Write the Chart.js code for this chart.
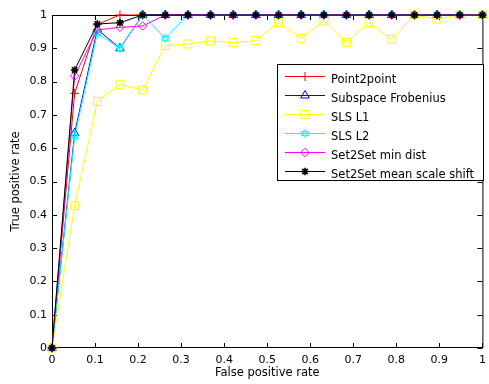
<!DOCTYPE html>
<html>
<head>
<meta charset="utf-8">
<title>ROC curves</title>
<script src="https://cdn.jsdelivr.net/npm/chart.js@4.4.0/dist/chart.umd.min.js"></script>
<style>
  html, body { margin: 0; padding: 0; background: #fff; }
  #wrap { width: 489px; height: 384px; }
</style>
</head>
<body>
<div id="wrap"><canvas id="roc" width="489" height="384"></canvas></div>
<script>
/* ---- data ---- */
const fpr = [0, 0.0526, 0.1053, 0.1579, 0.2105, 0.2632, 0.3158, 0.3684, 0.4211, 0.4737,
             0.5263, 0.5789, 0.6316, 0.6842, 0.7368, 0.7895, 0.8421, 0.8947, 0.9474, 1]

const point2point = [0, 0.765, 0.972, 1, 1, 1, 1, 1, 1, 1, 1, 1, 1, 1, 1, 1, 1, 1, 1, 1]
const subspaceFrob = [0, 0.645, 0.957, 0.9, 1, 1, 1, 1, 1, 1, 1, 1, 1, 1, 1, 1, 1, 1, 1, 1]
const slsL1 = [0, 0.427, 0.74, 0.792, 0.775, 0.908, 0.913, 0.922, 0.917, 0.923,
               0.977, 0.93, 0.982, 0.918, 0.977, 0.927, 1, 0.988, 1, 1]
const slsL2 = [0, 0.635, 0.945, 0.9, 1, 0.93, 1, 1, 1, 1, 1, 1, 1, 1, 1, 1, 1, 1, 1, 1]
const set2setMin = [0, 0.817, 0.955, 0.963, 0.967, 1, 1, 1, 1, 1, 1, 1, 1, 1, 1, 1, 1, 1, 1, 1]
const set2setMean = [0, 0.835, 0.973, 0.977, 1, 1, 1, 1, 1, 1, 1, 1, 1, 1, 1, 1, 1, 1, 1, 1]

const seriesNames = ['Point2point', 'Subspace Frobenius', 'SLS L1', 'SLS L2',
                     'Set2Set min dist', 'Set2Set mean scale shift']

const xTicks = [0, 0.1, 0.2, 0.3, 0.4, 0.5, 0.6, 0.7, 0.8, 0.9, 1]
const yTicks = [0, 0.1, 0.2, 0.3, 0.4, 0.5, 0.6, 0.7, 0.8, 0.9, 1]

/* hexagram marker for SLS L2 (matlab 'h') */
function hexagram(color) {
  const c = document.createElement('canvas')
  c.width = 11; c.height = 11
  const g = c.getContext('2d')
  g.strokeStyle = color
  g.lineWidth = 1
  const r = 4.2
  for (let k = 0; k < 2; k++) {
    g.beginPath()
    for (let i = 0; i < 3; i++) {
      const a = (k ? Math.PI / 2 : -Math.PI / 2) + i * 2 * Math.PI / 3
      const px = 5.5 + r * Math.cos(a), py = 5.5 + r * Math.sin(a)
      if (i == 0) g.moveTo(px, py); else g.lineTo(px, py)
    }
    g.closePath()
    g.stroke()
  }
  return c
}

const styles = [
  { color: '#ff0000', pointStyle: 'cross', radius: 4.5, pw: 1 },
  { color: '#0000ff', pointStyle: 'triangle', radius: 5, pw: 1 },
  { color: '#ffff00', pointStyle: 'rect', radius: 5.6, pw: 1 },
  { color: '#00ffff', pointStyle: hexagram('#00ffff'), radius: 4, pw: 1 },
  { color: '#ff00ff', pointStyle: 'rectRot', radius: 4.2, pw: 1 },
  { color: '#000000', pointStyle: 'star', radius: 3.8, pw: 1.6 }
]
const allSeries = [point2point, subspaceFrob, slsL1, slsL2, set2setMin, set2setMean]

const datasets = allSeries.map((vals, i) => ({
  label: seriesNames[i],
  data: vals.map((v, k) => ({ x: fpr[k], y: v })),
  borderColor: styles[i].color,
  borderWidth: 1,
  pointStyle: styles[i].pointStyle,
  pointRadius: styles[i].radius,
  pointHoverRadius: styles[i].radius,
  pointBorderColor: styles[i].color,
  pointBackgroundColor: 'rgba(0,0,0,0)',
  pointBorderWidth: styles[i].pw,
  tension: 0,
  fill: false,
  clip: false,
  order: allSeries.length - i   // matlab draws the later lines on top
}))

const tickFont = { family: 'DejaVu Sans', size: 11 }
const titleFont = { family: 'DejaVu Sans', size: 11.5 }

/* box round the axes with matlab style inward ticks */
const frame = {
  id: 'frame',
  beforeDatasetsDraw(chart) {
    const { ctx, chartArea: a, scales: { x, y } } = chart
    ctx.save()
    ctx.strokeStyle = '#000'
    ctx.lineWidth = 1
    ctx.strokeRect(a.left + 0.5, a.top + 0.5, a.right - a.left, a.bottom - a.top - 1)
    ctx.beginPath()
    xTicks.forEach(v => {
      const px = Math.round(x.getPixelForValue(v)) + 0.5
      ctx.moveTo(px, a.bottom); ctx.lineTo(px, a.bottom - 5)
      ctx.moveTo(px, a.top); ctx.lineTo(px, a.top + 5)
    })
    yTicks.forEach(v => {
      const py = Math.round(y.getPixelForValue(v)) + 0.5
      ctx.moveTo(a.left, py); ctx.lineTo(a.left + 5, py)
      ctx.moveTo(a.right, py); ctx.lineTo(a.right - 5, py)
    })
    ctx.stroke()
    ctx.restore()
  }
}

/* legend box in the upper right, inside the axes */
const boxLegend = {
  id: 'boxLegend',
  afterDatasetsDraw(chart) {
    const ctx = chart.ctx
    const bx = 277.5, by = 64.5, bw = 206, bh = 116
    ctx.save()
    ctx.fillStyle = '#fff'
    ctx.fillRect(bx, by, bw, bh)
    ctx.strokeStyle = '#000'
    ctx.lineWidth = 1
    ctx.strokeRect(bx, by, bw, bh)
    ctx.font = '11.5px "DejaVu Sans"'
    ctx.textBaseline = 'alphabetic'
    ctx.textAlign = 'left'
    seriesNames.forEach((name, i) => {
      const ry = Math.round(75.7 + i * 19) + 0.5
      const st = styles[i]
      ctx.strokeStyle = st.color
      ctx.lineWidth = 1
      ctx.beginPath()
      ctx.moveTo(285, ry); ctx.lineTo(325, ry)
      ctx.stroke()
      ctx.fillStyle = 'rgba(0,0,0,0)'
      ctx.lineWidth = st.pw
      Chart.helpers.drawPoint(ctx, { pointStyle: st.pointStyle, radius: st.radius, rotation: 0, borderWidth: st.pw }, 305, ry)
      ctx.fillStyle = '#000'
      ctx.fillText(name, 331, ry + 6.5)
    })
    ctx.restore()
  }
}

new Chart(document.getElementById('roc'), {
  type: 'line',
  data: { datasets: datasets },
  options: {
    responsive: false,
    devicePixelRatio: 1,
    animation: false,
    layout: { padding: { top: 15, right: 2, left: 0, bottom: 0 } },
    plugins: { legend: { display: false }, tooltip: { enabled: false } },
    scales: {
      x: {
        type: 'linear', min: 0, max: 1,
        afterBuildTicks: s => { s.ticks = xTicks.map(v => ({ value: v })) },
        grid: { display: false, drawTicks: false },
        border: { display: false },
        ticks: { padding: 6, font: tickFont, color: '#000', maxRotation: 0, autoSkip: false,
                 callback: v => String(v) },
        title: { display: true, text: 'False positive rate', font: titleFont, color: '#000',
                 padding: { top: 0, bottom: 4 } },
        afterFit: s => { s.height = 36; s.paddingLeft = 0; s.paddingRight = 0 }
      },
      y: {
        type: 'linear', min: 0, max: 1,
        afterBuildTicks: s => { s.ticks = yTicks.map(v => ({ value: v })) },
        grid: { display: false, drawTicks: false },
        border: { display: false },
        ticks: { padding: 5, font: tickFont, color: '#000', autoSkip: false,
                 callback: v => String(v) },
        title: { display: true, text: 'True positive rate', font: titleFont, color: '#000',
                 padding: { top: 9, bottom: 0 } },
        afterFit: s => { s.width = 52; s.paddingTop = 0; s.paddingBottom = 0 }
      }
    }
  },
  plugins: [frame, boxLegend]
})
</script>
</body>
</html>
